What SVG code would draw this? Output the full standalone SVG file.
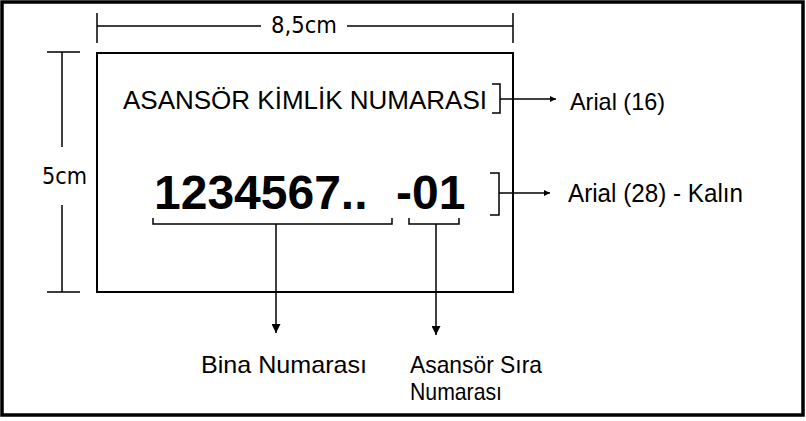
<svg xmlns="http://www.w3.org/2000/svg" width="806" height="421" viewBox="0 0 806 421">
<style>
.ln{stroke:#000;stroke-width:1.5;fill:none}
.t{font-family:"Liberation Sans",Arial,sans-serif;fill:#000}
.d{font-family:"DejaVu Sans",Verdana,sans-serif;fill:#000;font-size:23px}
</style>
<defs>
<marker id="ar" viewBox="0 0 10 10" refX="10" refY="5" markerWidth="6" markerHeight="6" markerUnits="userSpaceOnUse" orient="auto">
<path d="M0,0 L10,5 L0,10 z" fill="#000"/>
</marker>
<marker id="ad" viewBox="0 0 10 10" refX="10" refY="5" markerWidth="9" markerHeight="9" markerUnits="userSpaceOnUse" orient="auto">
<path d="M0,0 L10,5 L0,10 z" fill="#000"/>
</marker>
</defs>
<rect x="0" y="0" width="806" height="421" fill="#fff"/>
<rect x="2" y="2" width="801" height="413" fill="none" stroke="#000" stroke-width="3.5"/>

<g id="width-dimension">
<path class="ln" d="M97,13 V43 M513,13 V43 M97,26 H261 M347,26 H513"/>
<text class="d" x="304" y="33" text-anchor="middle" textLength="66" lengthAdjust="spacingAndGlyphs">8,5cm</text>
</g>

<g id="height-dimension">
<path class="ln" d="M47,52 H80 M47,292 H80 M62,52 V147 M62,205 V292"/>
<text class="d" x="42" y="184" textLength="45" lengthAdjust="spacingAndGlyphs">5cm</text>
</g>

<g id="label-card">
<rect x="97" y="53" width="416" height="239" fill="none" stroke="#000" stroke-width="2"/>
<text id="title" class="t" x="123" y="109" font-size="26" textLength="364" lengthAdjust="spacingAndGlyphs">ASANSÖR KİMLİK NUMARASI</text>
<text id="number" class="t" x="154" y="209" font-size="48" font-weight="bold">1234567.. <tspan x="396">-01</tspan></text>
</g>

<g id="connectors">
<path class="ln" d="M492,84 H500 V113 H492"/>
<path class="ln" d="M500,99 H556" marker-end="url(#ar)"/>
<path class="ln" d="M490,173 H499 V215 H490"/>
<path class="ln" d="M499,193 H550" marker-end="url(#ar)"/>
<path class="ln" d="M153,218 V224 H392 V218"/>
<path class="ln" d="M409,218 V224 H459 V218"/>
<path class="ln" d="M276,224 V333" marker-end="url(#ad)"/>
<path class="ln" d="M436,224 V335" marker-end="url(#ad)"/>
</g>

<g id="font-16-note">
<text class="t" x="570" y="110" font-size="24" textLength="95" lengthAdjust="spacingAndGlyphs">Arial (16)</text>
</g>
<g id="font-28-note">
<text class="t" x="568" y="202" font-size="25" textLength="175" lengthAdjust="spacingAndGlyphs">Arial (28) - Kalın</text>
</g>
<g id="bina-numarasi">
<text class="t" x="201" y="373" font-size="24" textLength="166" lengthAdjust="spacingAndGlyphs">Bina Numarası</text>
</g>
<g id="asansor-sira">
<text class="t" x="410" y="373" font-size="24" textLength="132" lengthAdjust="spacingAndGlyphs">Asansör Sıra</text>
<text class="t" x="410" y="400" font-size="24" textLength="92" lengthAdjust="spacingAndGlyphs">Numarası</text>
</g>
</svg>
